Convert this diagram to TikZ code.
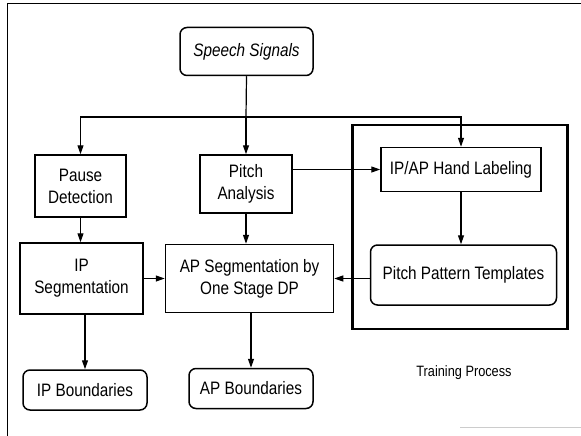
\documentclass[tikz,border=0pt]{standalone}
\usepackage{fontspec}
\setmainfont{Liberation Sans}[FakeStretch=0.85]
\usetikzlibrary{arrows.meta}
\begin{document}
\begin{tikzpicture}[x=1pt,y=-1pt,
  box/.style={draw,line width=1.5pt,align=center,inner sep=0pt,font=\fontsize{18}{22}\selectfont},
  rbox/.style={box,rounded corners=7pt},
  conn/.style={line width=1.2pt,-{Triangle[length=9pt,width=6pt]}},
  frameline/.style={line width=1pt}]
\useasboundingbox (0,0) rectangle (581,436);
% scanned frame edges
\coordinate (f1) at (7,436);
\coordinate (f2) at (7,4);
\coordinate (f3) at (581,4);
\draw[frameline] (f1) -- (f2) -- (f3);
\coordinate (g1) at (460,427);
\coordinate (g2) at (581,427);
\draw[gray!40,line width=0.8pt] (g1) -- (g2);
% training box
\node[draw,line width=2.2pt,minimum width=215pt,minimum height=204pt,inner sep=0pt] (train) at (460,227) {};
% nodes
\node[rbox,minimum width=133pt,minimum height=48pt,font=\fontsize{18}{22}\selectfont\itshape] (speech) at (246.5,51.5) {Speech Signals};
\node[box,minimum width=91pt,minimum height=62pt] (pause) at (80.5,186) {Pause\\Detection};
\node[box,minimum width=92pt,minimum height=58pt] (pitch) at (246,184) {Pitch\\Analysis};
\node[box,minimum width=160pt,minimum height=44pt] (hand) at (461,169.5) {IP/AP Hand Labeling};
\node[box,minimum width=123pt,minimum height=71pt] (ipseg) at (81.5,278.5) {IP\\Segmentation};
\node[box,minimum width=168pt,minimum height=68pt] (apseg) at (249.5,278.5) {AP Segmentation by\\One Stage DP};
\node[rbox,minimum width=186pt,minimum height=60pt] (tmpl) at (463.5,275) {Pitch Pattern Templates};
\node[rbox,minimum width=124pt,minimum height=40pt] (ipb) at (85,390) {IP Boundaries};
\node[rbox,minimum width=124pt,minimum height=40pt] (apb) at (251,388.5) {AP Boundaries};
\node[inner sep=0pt,font=\fontsize{15}{18}\selectfont] (tp) at (464,373) {Training Process};
% connectors
\coordinate (br) at (246,117);
\draw[line width=1.2pt] (speech.south) -- (br);
\draw[conn] (br) -| (pause.north);
\draw[conn] (br) -- (pitch.north);
\draw[conn] (br) -| (hand.north);
\draw[conn] (pitch.east |- hand.west) -- (hand.west);
\draw[conn] (hand.south) -- (tmpl.north -| hand.south);
\draw[conn] (tmpl.west |- apseg.east) -- (apseg.east);
\draw[conn] (pause.south) -- (ipseg.north -| pause.south);
\draw[conn] (pitch.south) -- (apseg.north -| pitch.south);
\draw[conn] (ipseg.east) -- (apseg.west);
\draw[conn] (ipseg.south -| ipb.north) -- (ipb.north);
\draw[conn] (apseg.south -| apb.north) -- (apb.north);
\end{tikzpicture}
\end{document}
